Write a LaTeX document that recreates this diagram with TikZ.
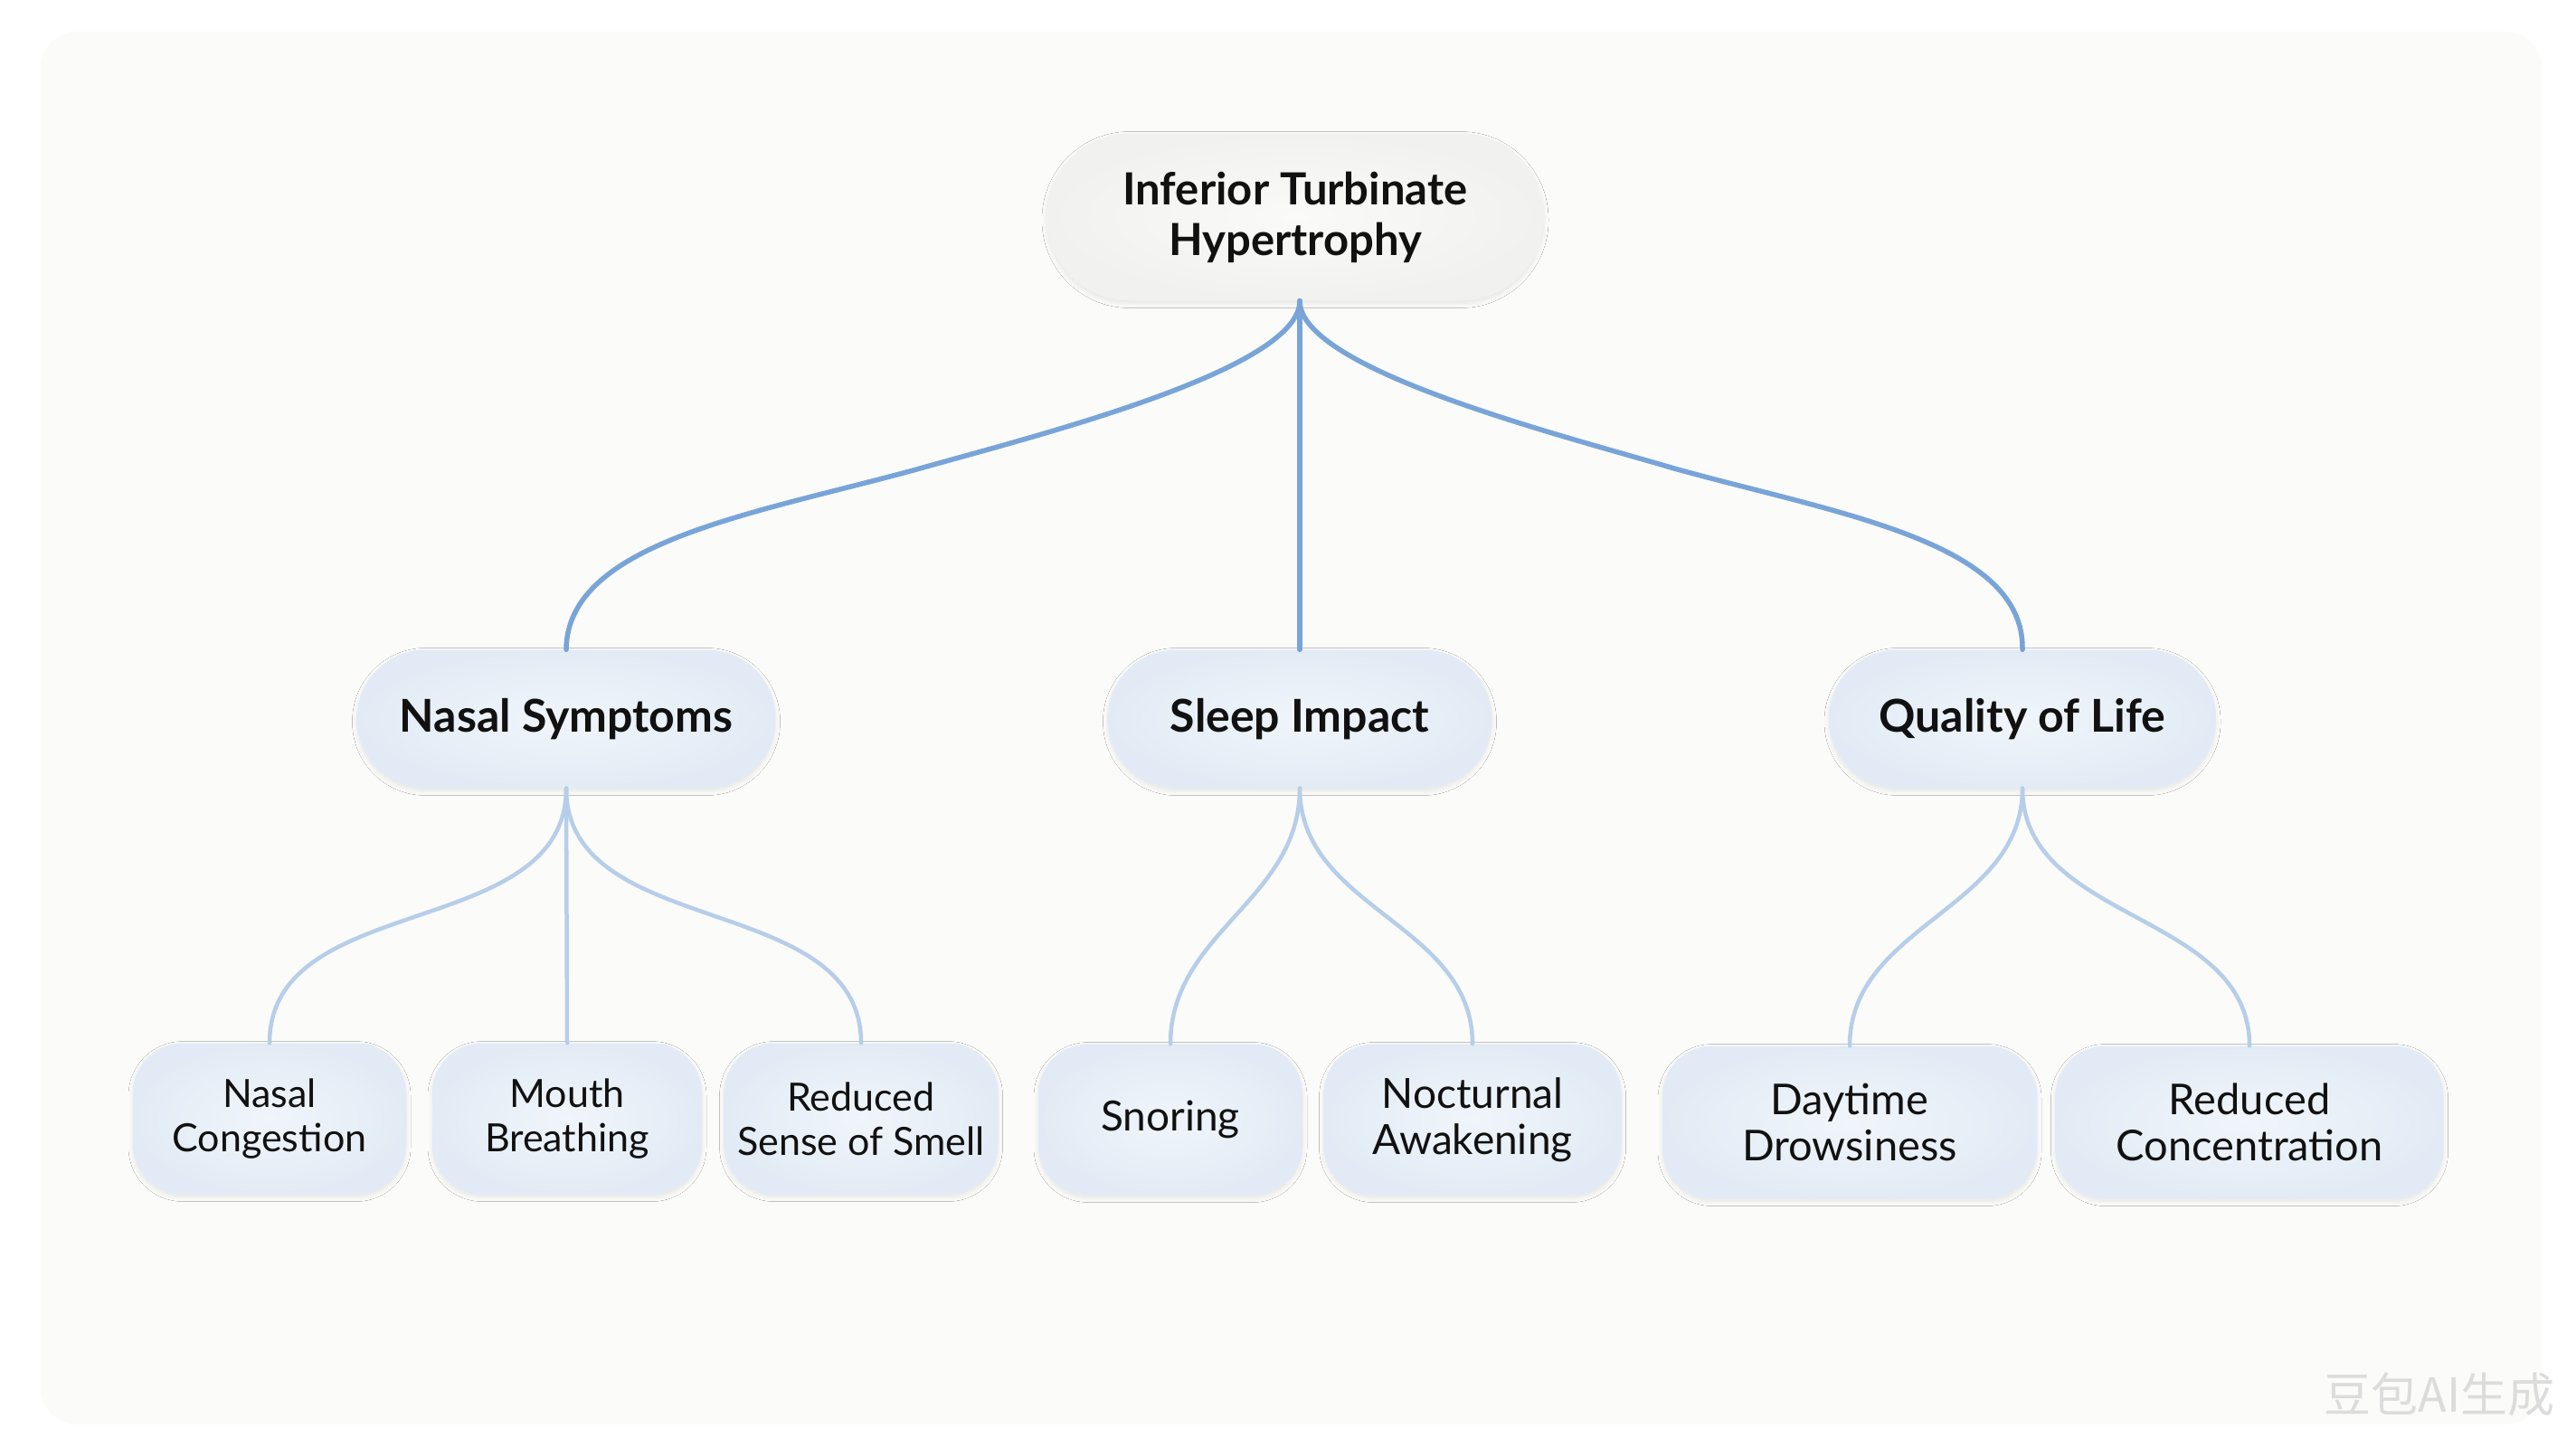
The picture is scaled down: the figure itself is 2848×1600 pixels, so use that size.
\documentclass[tikz,border=0pt]{standalone}
\usepackage{fontspec}
\setmainfont{Lato}
\newfontfamily\cjkfont{Noto Sans CJK SC}
\usetikzlibrary{shadows.blur}
\definecolor{pagebg}{HTML}{FFFFFF}
\definecolor{panelbg}{HTML}{FBFBF9}
\definecolor{rootin}{HTML}{FAFAF9}
\definecolor{rootout}{HTML}{F1F1EF}
\definecolor{boxin}{HTML}{F0F5FA}
\definecolor{boxout}{HTML}{E2EBF5}
\definecolor{topblue}{HTML}{78A4D8}
\definecolor{lowblue}{HTML}{B6CEE9}
\definecolor{txt}{HTML}{111111}
\definecolor{wmgray}{HTML}{DCDCDC}
\tikzset{
  softshadow/.style={blur shadow={shadow blur steps=8, shadow blur radius=5pt, shadow xshift=0pt, shadow yshift=-3pt, shadow opacity=9}},
  rootbox/.style={rounded corners=92pt, inner sep=0pt, align=center, minimum width=550pt, minimum height=185pt,
    inner color=rootin, outer color=rootout, softshadow, text=txt, font=\fontsize{49}{56}\selectfont\bfseries},
  midbox/.style={rounded corners=76pt, inner sep=0pt, align=center, minimum height=153pt,
    inner color=boxin, outer color=boxout, softshadow, text=txt, font=\fontsize{50}{56}\selectfont\bfseries},
  leafbox/.style={rounded corners=55pt, inner sep=0pt, align=center, minimum height=167pt,
    inner color=boxin, outer color=boxout, softshadow, text=txt, font=\fontsize{43}{49}\selectfont},
  midleaf/.style={leafbox, font=\fontsize{46}{51}\selectfont},
  bigleaf/.style={leafbox, minimum height=169pt, font=\fontsize{47}{51}\selectfont},
  topline/.style={draw=topblue, line width=5.5pt, line cap=round},
  lowline/.style={draw=lowblue, line width=4.5pt, line cap=round},
}
\begin{document}
\begin{tikzpicture}[x=1pt,y=-1pt]
\useasboundingbox (0,0) rectangle (2848,1600);
\fill[pagebg] (0,0) rectangle (2848,1600);
\fill[panelbg, rounded corners=40pt] (45,35) rectangle (2810,1575);

% nodes
\node[rootbox] (root) at (1432,240) {Inferior Turbinate\\Hypertrophy};
\node[midbox, minimum width=463pt] (ns) at (626,795) {Nasal Symptoms};
\node[midbox, minimum width=425pt] (si) at (1437,795) {Sleep Impact};
\node[midbox, minimum width=428pt] (ql) at (2236,795) {Quality of Life};

\node[leafbox, minimum width=302pt] (nc) at (298,1237) {Nasal\\Congestion};
\node[leafbox, minimum width=298pt] (mb) at (627,1237) {Mouth\\Breathing};
\node[leafbox, minimum width=303pt] (rs) at (952,1237) {Reduced\\Sense of Smell};
\node[midleaf, minimum width=292pt] (sn) at (1294,1238) {Snoring};
\node[midleaf, minimum width=329pt] (na) at (1628,1238) {Nocturnal\\Awakening};
\node[bigleaf, minimum width=414pt] (dd) at (2045,1241) {Daytime\\Drowsiness};
\node[bigleaf, minimum width=429pt] (rc) at (2487,1241) {Reduced\\Concentration};

% top-level connectors
\draw[topline] (root.south -| si.north) -- (si.north);
\draw[topline] (root.south -| si.north) .. controls (1437,409) and (1144,482) .. (1017,518)
  .. controls (836,568) and (627,599) .. (ns.north);
\draw[topline] (root.south -| si.north) .. controls (1437,409) and (1730,482) .. (1851,518)
  .. controls (2031,568) and (2238,599) .. (ql.north);

% second-level connectors
\draw[lowline] (ns.south) to[out=-90,in=90] (nc.north);
\draw[lowline] (ns.south) -- (mb.north);
\draw[lowline] (ns.south) to[out=-90,in=90] (rs.north);
\draw[lowline] (si.south) to[out=-90,in=90] (sn.north);
\draw[lowline] (si.south) to[out=-90,in=90] (na.north);
\draw[lowline] (ql.south) to[out=-90,in=90] (dd.north);
\draw[lowline] (ql.south) to[out=-90,in=90] (rc.north);

% watermark
\node[font=\cjkfont\fontsize{52}{52}\selectfont, text=wmgray] (wm) at (2697,1542) {豆包AI生成};
\end{tikzpicture}
\end{document}
